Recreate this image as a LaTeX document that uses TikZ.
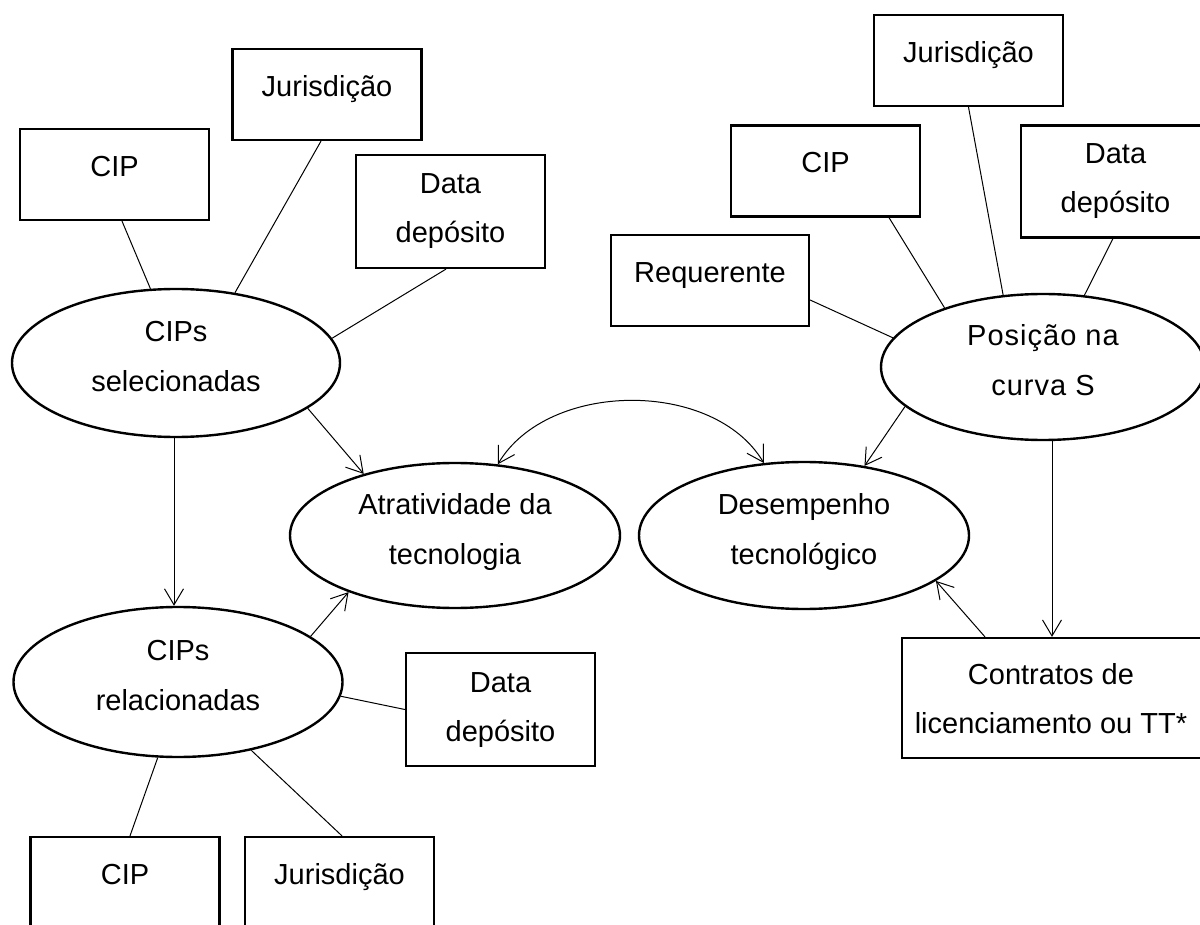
\documentclass[tikz,border=0pt]{standalone}
\usepackage{fontspec}
\setmainfont{Liberation Sans}
\usetikzlibrary{shapes.geometric,arrows.meta}
\begin{document}
\begin{tikzpicture}[x=1pt,y=-1pt,
  >={Straight Barb[length=16pt,width=19pt]},
  boxn/.style={draw, line width=2.2pt, rectangle, inner sep=0pt, minimum width=189pt, minimum height=91pt},
  ell/.style={draw, line width=2.4pt, ellipse, inner sep=0pt},
  txt/.style={font=\fontsize{29}{49}\selectfont, inner sep=0pt, anchor=base},
  wide/.style={font=\fontsize{29}{49}\selectfont\addfontfeature{LetterSpace=3.5}},
  link/.style={line width=1pt},
  arr/.style={line width=1pt, ->}]
\fill[white] (0,0) rectangle (1200,925);
\useasboundingbox (0,0) rectangle (1200,925);

% shapes
\node[boxn] (jur1) at (327,94.5) {};
\node[boxn] (cip1) at (114.5,174.5) {};
\node[boxn, minimum height=113pt] (dat1) at (450.5,211.5) {};
\node[ell, minimum width=328pt, minimum height=148pt] (sel) at (176,363) {};
\node[ell, minimum width=329pt, minimum height=150pt] (rel) at (178,682) {};
\node[ell, minimum width=330pt, minimum height=145pt] (atr) at (455,535.5) {};
\node[ell, minimum width=330pt, minimum height=147pt] (des) at (804,535.5) {};
\node[ell, minimum width=324pt, minimum height=146pt] (pos) at (1043,367) {};
\node[boxn] (jur2) at (968.5,60.5) {};
\node[boxn] (cip2) at (825.5,171) {};
\node[boxn, minimum height=112pt] (dat2) at (1115.5,181.5) {};
\node[boxn, minimum width=198pt] (req) at (710,280.5) {};
\node[boxn, minimum height=113pt] (dat3) at (500.5,709.5) {};
\node[boxn] (cip3) at (125,882.5) {};
\node[boxn] (jur3) at (339.5,882.5) {};
\node[boxn, minimum width=300pt, minimum height=120pt] (contr) at (1052,698) {};

% texts
\node[txt] (tjur1) at ([yshift=-2pt]jur1.center) {Jurisdição};
\node[txt] (tcip1) at ([yshift=-2pt]cip1.center) {CIP};
\node[txt] (tdat1a) at ([yshift=17.5pt]dat1.center) {Data};
\node[txt] (tdat1b) at ([yshift=-31.5pt]dat1.center) {depósito};
\node[txt] (tsela) at ([yshift=21.5pt]sel.center) {CIPs};
\node[txt] (tselb) at ([yshift=-28.5pt]sel.center) {selecionadas};
\node[txt] (trela) at ([yshift=21.5pt]rel.center) {CIPs};
\node[txt] (trelb) at ([yshift=-28.5pt]rel.center) {relacionadas};
\node[txt] (tatra) at ([yshift=21.5pt]atr.center) {Atratividade da};
\node[txt] (tatrb) at ([yshift=-28.5pt]atr.center) {tecnologia};
\node[txt] (tdesa) at ([yshift=21.5pt]des.center) {Desempenho};
\node[txt] (tdesb) at ([yshift=-28.5pt]des.center) {tecnológico};
\node[txt, wide] (tposa) at ([yshift=21.5pt]pos.center) {Posição na};
\node[txt, wide] (tposb) at ([yshift=-28.5pt]pos.center) {curva S};
\node[txt] (tjur2) at ([yshift=-2pt]jur2.center) {Jurisdição};
\node[txt] (tcip2) at ([yshift=-2pt]cip2.center) {CIP};
\node[txt] (tdat2a) at ([yshift=17.5pt]dat2.center) {Data};
\node[txt] (tdat2b) at ([yshift=-31.5pt]dat2.center) {depósito};
\node[txt] (treq) at ([yshift=-2pt]req.center) {Requerente};
\node[txt] (tdat3a) at ([yshift=17.5pt]dat3.center) {Data};
\node[txt] (tdat3b) at ([yshift=-31.5pt]dat3.center) {depósito};
\node[txt] (tcip3) at ([yshift=-2pt]cip3.center) {CIP};
\node[txt] (tjur3) at ([yshift=-2pt]jur3.center) {Jurisdição};
\node[txt] (tcona) at ([xshift=-1pt,yshift=14pt]contr.center) {Contratos de};
\node[txt] (tconb) at ([xshift=-1pt,yshift=-35pt]contr.center) {licenciamento ou TT*};

% connectors, left
\draw[link] ([xshift=7.5pt]cip1.south) -- (sel.109);
\draw[link] ([xshift=-6pt]jur1.south) -- (sel.50);
\draw[link] ([xshift=-4.5pt]dat1.south) -- (sel.9);
\draw[arr] (sel.-19) -- (atr.146);
\draw[arr] ([xshift=-2pt]sel.south) -- ([xshift=-4pt]rel.north);
\draw[arr] (rel.19) -- (atr.208);
\draw[link] (rel.-5) -- (dat3.west);
\draw[link] (rel.255) -- ([xshift=5pt]cip3.north);
\draw[link] (rel.317) -- ([xshift=2.5pt]jur3.north);

% connectors, right
\draw[link] ([yshift=-19.5pt]req.east) -- (pos.169);
\draw[link] ([xshift=63.5pt]cip2.south) -- (pos.149);
\draw[link] (jur2.south) -- (pos.119);
\draw[link] ([xshift=-2.5pt]dat2.south) -- (pos.60);
\draw[arr] (pos.196) -- (des.49);
\draw[arr] (contr.north |- pos.south) -- (contr.north);
\draw[arr] ([xshift=-67pt]contr.north) -- (des.-19);

% curved two-way arrow
\draw[line width=1pt, <->] (atr.59) .. controls +(50,-84) and +(-50,-84) .. (des.119);
\end{tikzpicture}
\end{document}
